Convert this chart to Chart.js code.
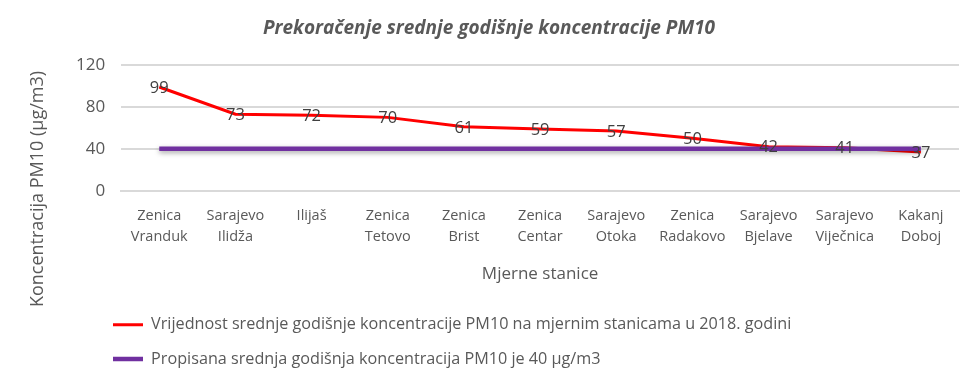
<!DOCTYPE html>
<html>
<head>
<meta charset="utf-8">
<script src="https://cdn.jsdelivr.net/npm/chart.js@4/dist/chart.umd.min.js"></script>
<style>
    html, body { margin: 0; padding: 0; background: #fff; }
    #wrap { width: 969px; height: 381px; }
</style>
</head>
<body>
<div id="wrap"><canvas id="pmChart"></canvas></div>
<script>
const stations = [
    ['Zenica', 'Vranduk'], ['Sarajevo', 'Ilidža'], ['Ilijaš'], ['Zenica', 'Tetovo'],
    ['Zenica', 'Brist'], ['Zenica', 'Centar'], ['Sarajevo', 'Otoka'], ['Zenica', 'Radakovo'],
    ['Sarajevo', 'Bjelave'], ['Sarajevo', 'Viječnica'], ['Kakanj', 'Doboj']
];
const measured = [99, 73, 72, 70, 61, 59, 57, 50, 42, 41, 37];
const limit = [40, 40, 40, 40, 40, 40, 40, 40, 40, 40, 40];
const yTicks = [0, 40, 80, 120];

const FONT = '"Open Sans"';
const GREY = '#595959';

// value labels sit right on the points, like in the original
const pointLabels = {
    id: 'pointLabels',
    afterDatasetsDraw(chart) {
        const ctx = chart.ctx;
        const meta = chart.getDatasetMeta(0);
        ctx.save();
        ctx.font = '16.5px ' + FONT;
        ctx.fillStyle = '#404040';
        ctx.textAlign = 'center';
        ctx.textBaseline = 'middle';
        meta.data.forEach((pt, i) => {
            ctx.fillText(measured[i], pt.x, pt.y + 1);
        });
        ctx.restore();
    }
};

// soft shadow under the limit line
const lineShadow = {
    id: 'lineShadow',
    beforeDatasetDraw(chart, args) {
        if (args.index !== 1) return;
        const ctx = chart.ctx;
        ctx.save();
        ctx.shadowColor = 'rgba(0,0,0,0.35)';
        ctx.shadowBlur = 5;
        ctx.shadowOffsetY = 2;
    },
    afterDatasetDraw(chart, args) {
        if (args.index !== 1) return;
        chart.ctx.restore();
    }
};

// title and y axis title drawn by hand, the original has them off-centre
const freeTexts = {
    id: 'freeTexts',
    afterDraw(chart) {
        const ctx = chart.ctx;
        ctx.save();
        ctx.fillStyle = GREY;
        ctx.textAlign = 'center';
        ctx.textBaseline = 'middle';
        ctx.font = 'italic bold 19px ' + FONT;
        ctx.fillText('Prekoračenje srednje godišnje koncentracije PM10', 489, 29);
        ctx.translate(38, 189);
        ctx.rotate(-Math.PI / 2);
        ctx.font = '18px ' + FONT;
        ctx.fillText('Koncentracija PM10 (µg/m3)', 0, 0);
        ctx.restore();
    }
};

// push the legend right so it starts under the plot
const legendShift = {
    id: 'legendShift',
    afterLayout(chart) {
        chart.legend.left += 35;
    }
};

new Chart(document.getElementById('pmChart'), {
    type: 'line',
    data: {
        labels: stations,
        datasets: [
            {
                label: 'Vrijednost srednje godišnje koncentracije PM10 na mjernim stanicama u 2018. godini',
                data: measured,
                borderColor: '#ff0000',
                backgroundColor: '#ff0000',
                borderWidth: 3,
                pointRadius: 0,
                tension: 0,
                order: 1
            },
            {
                label: 'Propisana srednja godišnja koncentracija PM10 je 40 µg/m3',
                data: limit,
                borderColor: '#7030a0',
                backgroundColor: '#7030a0',
                borderWidth: 4.5,
                pointRadius: 0,
                order: 0
            }
        ]
    },
    options: {
        responsive: true,
        maintainAspectRatio: false,
        animation: false,
        layout: {
            padding: { left: 60, right: 10, top: 65, bottom: 4 }
        },
        scales: {
            x: {
                offset: true,
                grid: { display: false },
                border: { color: '#d9d9d9', width: 2 },
                ticks: {
                    color: GREY,
                    font: { family: FONT, size: 14.5, lineHeight: 1.5 },
                    maxRotation: 0,
                    autoSkip: false,
                    padding: 6
                },
                title: {
                    display: true,
                    text: 'Mjerne stanice',
                    color: GREY,
                    font: { family: FONT, size: 17 },
                    padding: { top: 10, bottom: 14 }
                }
            },
            y: {
                min: 0,
                max: 120,
                afterBuildTicks(axis) {
                    axis.ticks = yTicks.map(v => ({ value: v }));
                },
                grid: { color: '#d9d9d9', lineWidth: 2, drawTicks: false },
                border: { display: false },
                ticks: {
                    color: GREY,
                    font: { family: FONT, size: 17 },
                    padding: 16
                }
            }
        },
        plugins: {
            title: { display: false },
            legend: {
                position: 'bottom',
                align: 'start',
                labels: {
                    color: GREY,
                    font: { family: FONT, size: 16.2 },
                    usePointStyle: true,
                    pointStyle: 'line',
                    pointStyleWidth: 30,
                    boxHeight: 16,
                    padding: 18,
                    sort: (a, b) => a.datasetIndex - b.datasetIndex
                }
            },
            tooltip: { enabled: false }
        }
    },
    plugins: [pointLabels, lineShadow, freeTexts, legendShift]
});
</script>
</body>
</html>
